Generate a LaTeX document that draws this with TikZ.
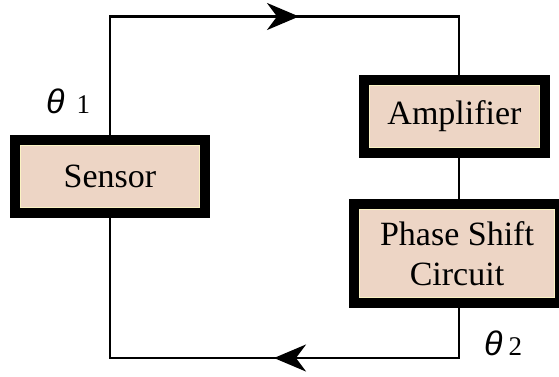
\documentclass[tikz,border=0pt]{standalone}
\usepackage{fontspec}
\setmainfont{Liberation Serif}
\newfontfamily\thetafont{Liberation Sans}
\usetikzlibrary{arrows.meta}
\definecolor{boxfill}{HTML}{EDD5C5}
\definecolor{cream}{HTML}{FBF3C4}
\tikzset{
  blockbox/.style={draw=black, fill=boxfill, line width=10pt, inner sep=0pt, outer sep=0pt,
    align=center, font=\fontsize{34}{40}\selectfont},
  wire/.style={line width=2.6pt, line join=miter},
  arr/.style={-{Stealth[length=32pt,width=27pt,inset=10pt]}},
  lbl/.style={anchor=base west, inner sep=0pt}
}
\begin{document}
\begin{tikzpicture}[x=1pt,y=-1pt]
\useasboundingbox[fill=white] (0,0) rectangle (559,376);
\begin{scope}
\clip (0,0) rectangle (559,376);
\node[blockbox, minimum width=190pt, minimum height=73pt] (sen) at (110,176.5) {Sensor};
\node[blockbox, minimum width=181pt, minimum height=73pt] (amp) at (454.5,116.5) {Amplifier};
\node[blockbox, minimum width=206pt, minimum height=99pt] (pha) at (457,253.5) {Phase Shift\\Circuit};
\foreach \n in {sen,amp,pha}
  \draw[cream, line width=1.2pt] ([shift={(5.6,5.6)}]\n.north west) rectangle ([shift={(-5.6,-5.6)}]\n.south east);
\end{scope}
\coordinate (topL) at (110,16.5);
\coordinate (topR) at (459,16.5);
\coordinate (botR) at (459,358);
\coordinate (botL) at (110,358);
\coordinate (tipT) at (299,16.5);
\coordinate (tipB) at (274,358);
\draw[wire] (sen.north) -- (topL) -- (topR) -- (topR |- amp.north);
\draw[wire] (topR |- amp.south) -- (topR |- pha.north);
\draw[wire] (topR |- pha.south) -- (botR) -- (botL) -- (sen.south);
\draw[wire, arr] (topL) -- (tipT);
\draw[wire, arr] (botR) -- (tipB);
\node[lbl] (t1) at (46,113) {{\thetafont\itshape\fontsize{34}{34}\selectfont θ}\hspace{12pt}\fontsize{27}{27}\selectfont 1};
\node[lbl] (t2) at (484,355) {{\thetafont\itshape\fontsize{34}{34}\selectfont θ}\hspace{6pt}\fontsize{27}{27}\selectfont 2};
\end{tikzpicture}
\end{document}
